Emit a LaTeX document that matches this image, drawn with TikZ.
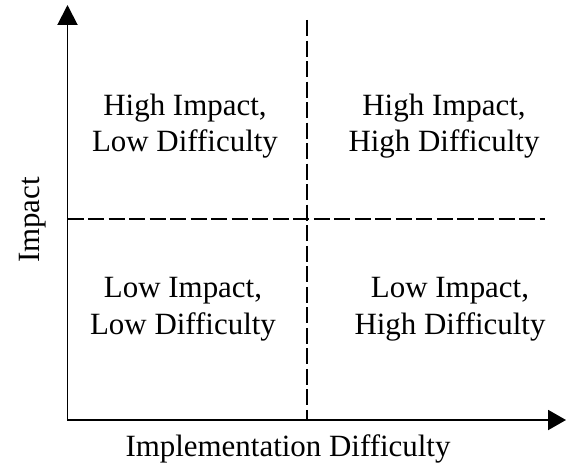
\documentclass[tikz,border=0pt]{standalone}
\usepackage{fontspec}
\setmainfont{Liberation Serif}
\usepackage{tikz}
\usetikzlibrary{arrows.meta}

\begin{document}
\begin{tikzpicture}[line join=miter, font=\fontsize{22}{26.1}\selectfont,
    axisline/.style={line width=1.4pt, {Triangle[width=0.5cm, length=0.5cm]}-{Triangle[width=0.5cm, length=0.45cm]}},
    divider/.style={line width=1.1pt, dash pattern=on 11.4pt off 3.2pt},
    quadtext/.style={align=center, inner sep=0pt}]
    \useasboundingbox (0, 0) rectangle (14.15, 11.625);

    \coordinate (O) at (1.6875, 1.125);     % origin of the axes
    \coordinate (Y) at (1.6875, 11.5);      % tip of impact axis
    \coordinate (X) at (14.15, 1.125);      % tip of difficulty axis
    \coordinate (VT) at (7.675, 11.125);    % top of vertical divider
    \coordinate (VB) at (7.675, 1.125);
    \coordinate (HL) at (1.6875, 6.15);     % horizontal divider
    \coordinate (HR) at (13.625, 6.15);

    % Axes
    \draw[axisline] (Y) -- (O) -- (X);

    % Dashed dividers between the quadrants
    \draw[divider] (VT) -- (VB);
    \draw[divider] (HL) -- (HR);

    % Quadrant labels
    \node[quadtext] (hl) at (4.625, 8.47) {High Impact,\\Low Difficulty};
    \node[quadtext] (hh) at (11.1, 8.47)  {High Impact,\\High Difficulty};
    \node[quadtext] (ll) at (4.575, 3.90) {Low Impact,\\Low Difficulty};
    \node[quadtext] (lh) at (11.25, 3.90) {Low Impact,\\High Difficulty};

    % Axis labels
    \node[anchor=base, inner sep=0pt] (xlab) at (7.2, 0.2075) {Implementation Difficulty};
    \node[anchor=base, rotate=90, inner sep=0pt] (ylab) at (0.98, 6.125) {Impact};
\end{tikzpicture}
\end{document}
